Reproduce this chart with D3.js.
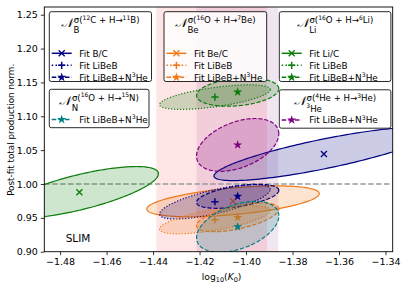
<!DOCTYPE html>
<html>
<head>
<meta charset="utf-8">
<script src="https://cdn.jsdelivr.net/npm/d3@7"></script>
<style>
  body { margin: 0; background: #fff; }
  svg { display: block; font-family: "DejaVu Sans", sans-serif; }
</style>
</head>
<body>
<div id="chart"></div>
<script>
// ---- data ----
const xTicks = [-1.48, -1.46, -1.44, -1.42, -1.40, -1.38, -1.36, -1.34];
const yTicks = [0.90, 0.95, 1.00, 1.05, 1.10, 1.15, 1.20, 1.25];
const xDomain = [-1.4868, -1.3369];
const yDomain = [0.90, 1.2614];
const refLine = 1.0;

// shaded K0 ranges (LiBeB, LiBeB+N3He)
const bandLo = [-1.4386, -1.4213];
const bandHi = [-1.3910, -1.3862];

// ellipses: nuclide, fit, centre, half-extents and correlation
const ellNuc = ['B', 'Be', 'Li', 'B', 'Be', 'Li', 'B', 'Be', 'Li', 'N', 'He3'];
const ellFit = ['C', 'C', 'C', 'LiBeB', 'LiBeB', 'LiBeB', 'N3He', 'N3He', 'N3He', 'N3He', 'N3He'];
const ellX   = [-1.3665, -1.4056, -1.4717, -1.4134, -1.4134, -1.4134, -1.4036, -1.4036, -1.4036, -1.4036, -1.4036];
const ellY   = [1.0444, 0.9744, 0.9877, 0.9738, 0.9472, 1.1283, 0.9818, 0.9507, 1.1357, 0.9368, 1.0577];
const ellSx  = [0.0473, 0.0371, 0.0340, 0.0238, 0.0238, 0.0238, 0.0177, 0.0177, 0.0177, 0.0177, 0.0177];
const ellSy  = [0.0394, 0.0228, 0.0381, 0.0255, 0.0208, 0.0181, 0.0177, 0.0212, 0.0208, 0.0376, 0.0390];
const ellRho = [0.826, 0.50, 0.72, 0.71, 0.66, 0.61, 0.50, 0.58, 0.24, 0.43, 0.42];

// legends
const legNuc = ['B', 'Be', 'Li', 'N', 'He3'];
const legSup = ['σ(^{12}C + H→^{11}B)', 'σ(^{16}O + H→^{7}Be)', 'σ(^{16}O + H→^{6}Li)', 'σ(^{16}O + H→^{15}N)', 'σ(^{4}He + H→^{3}He)'];
const legSub = ['B', 'Be', 'Li', 'N', '^{3}He'];
const legFits = [['C', 'LiBeB', 'N3He'], ['C', 'LiBeB', 'N3He'], ['C', 'LiBeB', 'N3He'], ['N3He'], ['N3He']];
const fitLabel = { LiBeB: 'Fit LiBeB', N3He: 'Fit LiBeB+N^{3}He' };
const ratioLabel = { B: 'Fit B/C', Be: 'Fit Be/C', Li: 'Fit Li/C' };

// ---- styles ----
const nucColor = { B: '#000080', Be: '#f07a1a', Li: '#0a7d0a', N: '#008080', He3: '#800080' };
const fitDash = { C: null, LiBeB: '1.2,1.8', N3He: '4.2,1.8' };
const fitMarker = { C: 'x', LiBeB: '+', N3He: 'star' };
const bandColor = ['#ff0000', '#800080'];

const W = 403, H = 287;
const margin = { left: 44.3, right: W - 392.7, top: 7, bottom: H - 251.7 };

const svg = d3.select('#chart').append('svg').attr('width', W).attr('height', H);

const x = d3.scaleLinear().domain(xDomain).range([margin.left, W - margin.right]);
const y = d3.scaleLinear().domain(yDomain).range([H - margin.bottom, margin.top]);

svg.append('clipPath').attr('id', 'plotclip').append('rect')
  .attr('x', margin.left).attr('y', margin.top)
  .attr('width', W - margin.left - margin.right).attr('height', H - margin.top - margin.bottom);

const plot = svg.append('g').attr('clip-path', 'url(#plotclip)');

// bands
plot.selectAll('.band').data(bandLo).enter().append('rect')
  .attr('class', 'band')
  .attr('x', d => x(d))
  .attr('width', (d, i) => x(bandHi[i]) - x(d))
  .attr('y', margin.top)
  .attr('height', H - margin.top - margin.bottom)
  .attr('fill', (d, i) => bandColor[i])
  .attr('fill-opacity', 0.1);

// reference line
plot.append('line')
  .attr('x1', margin.left).attr('x2', W - margin.right)
  .attr('y1', y(refLine)).attr('y2', y(refLine))
  .attr('stroke', '#9a9a9a').attr('stroke-width', 1.5)
  .attr('stroke-dasharray', '5.5,2.4');

function ellipsePoints(i) {
  const r = ellRho[i], q = Math.sqrt(1 - r * r);
  return d3.range(0, 360, 2).map(a => {
    const t = a * Math.PI / 180;
    return [x(ellX[i] + ellSx[i] * Math.cos(t)),
            y(ellY[i] + ellSy[i] * (r * Math.cos(t) + q * Math.sin(t)))];
  });
}
const ellLine = d3.line().curve(d3.curveLinearClosed);

function drawMarker(g, type, cx, cy, color) {
  if (type === 'x') {
    g.append('path').attr('d', `M${cx - 3},${cy - 3}L${cx + 3},${cy + 3}M${cx - 3},${cy + 3}L${cx + 3},${cy - 3}`)
      .attr('stroke', color).attr('stroke-width', 1.3).attr('fill', 'none');
  } else if (type === '+') {
    g.append('path').attr('d', `M${cx - 3.6},${cy}H${cx + 3.6}M${cx},${cy - 3.6}V${cy + 3.6}`)
      .attr('stroke', color).attr('stroke-width', 1.5).attr('fill', 'none');
  } else {
    g.append('path').attr('d', d3.symbol(d3.symbolStar, 26)())
      .attr('transform', `translate(${cx},${cy})`)
      .attr('fill', color);
  }
}

d3.range(ellX.length).forEach(i => {
  const c = nucColor[ellNuc[i]];
  plot.append('path')
    .attr('d', ellLine(ellipsePoints(i)))
    .attr('fill', c).attr('fill-opacity', 0.2)
    .attr('stroke', c).attr('stroke-width', 1.2)
    .attr('stroke-dasharray', fitDash[ellFit[i]]);
  drawMarker(plot, fitMarker[ellFit[i]], x(ellX[i]), y(ellY[i]), c);
});

// ---- axes ----
const fmt = d3.format('.2f');
const minus = s => s.replace('-', '−');
const xAxis = svg.append('g').attr('transform', `translate(0,${H - margin.bottom})`)
  .call(d3.axisBottom(x).tickValues(xTicks).tickFormat(d => minus(fmt(d))).tickSize(3.5).tickPadding(3));
const yAxis = svg.append('g').attr('transform', `translate(${margin.left},0)`)
  .call(d3.axisLeft(y).tickValues(yTicks).tickFormat(fmt).tickSize(3.5).tickPadding(3));
[xAxis, yAxis].forEach(a => {
  a.select('.domain').remove();
  a.selectAll('.tick line').attr('stroke', '#000').attr('stroke-width', 0.8);
  a.selectAll('.tick text').attr('font-family', 'DejaVu Sans').attr('font-size', 9.5).attr('fill', '#000');
});

svg.append('rect')
  .attr('x', margin.left).attr('y', margin.top)
  .attr('width', W - margin.left - margin.right).attr('height', H - margin.top - margin.bottom)
  .attr('fill', 'none').attr('stroke', '#000').attr('stroke-width', 0.9);

// rich text with ^{...} superscripts, no empty tspans
function richText(sel, str, size) {
  const parts = str.split(/(\^\{[^}]*\})/).filter(p => p.length);
  const rise = size * 0.38;
  let lifted = false;
  parts.forEach(p => {
    if (p.startsWith('^{')) {
      sel.append('tspan').attr('font-size', size * 0.7).attr('dy', lifted ? 0 : -rise).text(p.slice(2, -1));
      lifted = true;
    } else {
      sel.append('tspan').attr('font-size', size).attr('dy', lifted ? rise : 0).text(p);
      lifted = false;
    }
  });
}

// axis labels
const xl = svg.append('text').attr('x', x(-1.4105)).attr('y', 280)
  .attr('text-anchor', 'middle').attr('font-size', 9.2);
xl.append('tspan').text('log');
xl.append('tspan').attr('font-size', 6.5).attr('dy', 2).text('10');
xl.append('tspan').attr('dy', -2).text('(');
xl.append('tspan').attr('font-style', 'italic').text('K');
xl.append('tspan').attr('font-size', 6.5).attr('dy', 2).text('0');
xl.append('tspan').attr('dy', -2).text(')');

svg.append('text')
  .attr('transform', `translate(13.5,${y(1.08)}) rotate(-90)`)
  .attr('text-anchor', 'middle').attr('font-size', 8.8)
  .text('Post-fit total production norm.');

svg.append('text').attr('x', x(-1.4776)).attr('y', 241.5)
  .attr('font-size', 10.5).text('SLIM');

// ---- legends ----
const legBox = [
  { x: 49.3, y: 11.7, w: 102.2, h: 69.8 },
  { x: 164.0, y: 11.7, w: 102.7, h: 69.8 },
  { x: 279.3, y: 11.7, w: 111.6, h: 69.8 },
  { x: 49.3, y: 89.3, w: 99.7, h: 38.4 },
  { x: 279.3, y: 89.8, w: 111.6, h: 38.4 }
];

legNuc.forEach((nuc, k) => {
  const b = legBox[k];
  const c = nucColor[nuc];
  const g = svg.append('g');
  g.append('rect').attr('x', b.x).attr('y', b.y).attr('width', b.w).attr('height', b.h)
    .attr('rx', 2).attr('fill', '#fff').attr('fill-opacity', 0.85)
    .attr('stroke', '#111').attr('stroke-width', 0.9);

  // title
  const tg = g.append('g');
  const nt = tg.append('text').attr('x', 0).attr('y', 0).attr('font-size', 12.5)
    .attr('font-family', 'DejaVu Serif').attr('font-style', 'italic').text('𝒩');
  const nW = nt.node().getComputedTextLength();
  const sup = tg.append('text').attr('x', nW + 0.5).attr('y', -4);
  richText(sup, legSup[k], 8.6);
  const sub = tg.append('text').attr('x', nW + 0.3).attr('y', 6.5);
  richText(sub, legSub[k], 8.6);
  const bb = tg.node().getBBox();
  tg.attr('transform', `translate(${b.x + (b.w - bb.width) / 2 - bb.x},${b.y + 15.2})`);

  const rows = legFits[k];
  const row0 = rows.length === 3 ? 41.6 : 30.2;
  rows.forEach((f, j) => {
    const ry = b.y + row0 + j * 12;
    g.append('line').attr('x1', b.x + 2.4).attr('x2', b.x + 22.4)
      .attr('y1', ry).attr('y2', ry)
      .attr('stroke', c).attr('stroke-width', 1.5)
      .attr('stroke-dasharray', f === 'LiBeB' ? '1.5,2.3' : f === 'N3He' ? '4.6,2' : null);
    drawMarker(g, fitMarker[f], b.x + 12.4, ry, c);
    const t = g.append('text').attr('x', b.x + 30).attr('y', ry + 3.3);
    richText(t, f === 'C' ? ratioLabel[nuc] : fitLabel[f], 8.9);
  });
});
</script>
</body>
</html>
